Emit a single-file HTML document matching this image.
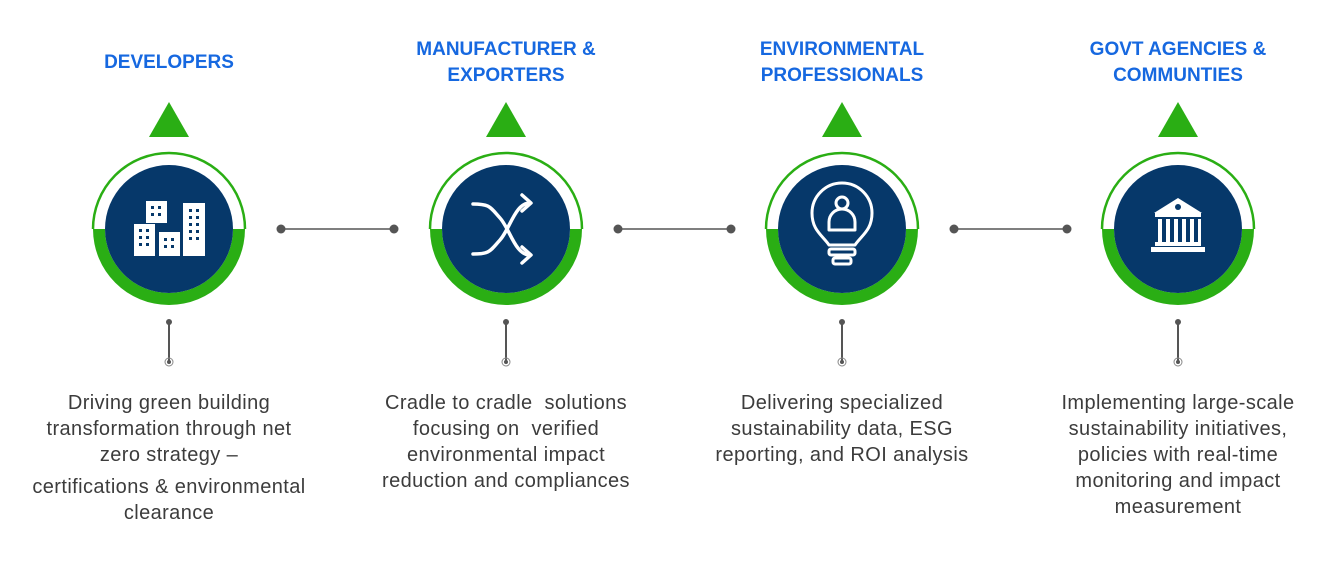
<!DOCTYPE html>
<html><head><meta charset="utf-8"><style>
body{margin:0;width:1333px;height:567px;background:#fff;position:relative;overflow:hidden;font-family:"Liberation Sans",sans-serif}
.t{position:absolute;width:300px;text-align:center;color:#1668e0;font-weight:bold;font-size:19px;line-height:26px}
.d{position:absolute;width:340px;text-align:center;color:#3c3c3c;font-size:20px;letter-spacing:0.4px;line-height:26px}
</style></head><body>
<div class="t" style="left:19px;top:50px">DEVELOPERS</div>
<div class="t" style="left:356px;top:37px">MANUFACTURER &amp;<br>EXPORTERS</div>
<div class="t" style="left:692px;top:37px">ENVIRONMENTAL<br>PROFESSIONALS</div>
<div class="t" style="left:1028px;top:37px">GOVT AGENCIES &amp;<br>COMMUNTIES</div>
<div class="d" style="left:-1px;top:390px">Driving green building<br>transformation through net<br>zero strategy –<div style="height:6px"></div>certifications &amp; environmental<br>clearance</div>
<div class="d" style="left:336px;top:390px">Cradle to cradle&nbsp; solutions<br>focusing on&nbsp; verified<br>environmental impact<br>reduction and compliances</div>
<div class="d" style="left:672px;top:390px">Delivering specialized<br>sustainability data, ESG<br>reporting, and ROI analysis</div>
<div class="d" style="left:1008px;top:390px">Implementing large-scale<br>sustainability initiatives,<br>policies with real-time<br>monitoring and impact<br>measurement</div>
<svg width="1333" height="567" style="position:absolute;left:0;top:0">
<defs>
<g id="node">
<polygon points="0,-127 -20,-92 20,-92" fill="#2aae14"/>
<path d="M-76,0 A76,76 0 0 1 76,0" fill="none" stroke="#2aae14" stroke-width="2.5"/>
<path d="M-76,0 A76,76 0 0 0 76,0 L64,0 A64,64 0 0 1 -64,0 Z" fill="#2aae14"/>
<circle r="64" fill="#06386a"/>
<line x1="0" y1="93" x2="0" y2="133" stroke="#555" stroke-width="2"/>
<circle cx="0" cy="93" r="3" fill="#555"/>
<circle cx="0" cy="133" r="4" fill="none" stroke="#888" stroke-width="1"/>
<circle cx="0" cy="133" r="2" fill="#555"/>
</g>
<g id="conn"><line x1="0" y1="0" x2="113" y2="0" stroke="#555" stroke-width="1.5"/><circle r="4.5" fill="#555"/><circle cx="113" r="4.5" fill="#555"/></g>
</defs>
<use href="#node" x="169" y="229"/>
<use href="#node" x="506" y="229"/>
<use href="#node" x="842" y="229"/>
<use href="#node" x="1178" y="229"/>
<use href="#conn" x="281" y="229"/>
<use href="#conn" x="618" y="229"/>
<use href="#conn" x="954" y="229"/>
<g fill="#fff">
<rect x="134" y="224" width="21" height="32"/>
<rect x="146" y="201" width="21" height="22"/>
<rect x="159" y="232" width="21" height="24"/>
<rect x="183" y="203" width="22" height="53"/>
</g>
<g fill="#06386a">
<rect x="139" y="229" width="3" height="3"/><rect x="146" y="229" width="3" height="3"/><rect x="139" y="236" width="3" height="3"/><rect x="146" y="236" width="3" height="3"/><rect x="139" y="243" width="3" height="3"/><rect x="146" y="243" width="3" height="3"/>
<rect x="151" y="206" width="3" height="3"/><rect x="158" y="206" width="3" height="3"/><rect x="151" y="213" width="3" height="3"/><rect x="158" y="213" width="3" height="3"/>
<rect x="164" y="238" width="3" height="3"/><rect x="171" y="238" width="3" height="3"/><rect x="164" y="245" width="3" height="3"/><rect x="171" y="245" width="3" height="3"/>
<rect x="189" y="209" width="3" height="3"/><rect x="196" y="209" width="3" height="3"/><rect x="189" y="216" width="3" height="3"/><rect x="196" y="216" width="3" height="3"/><rect x="189" y="223" width="3" height="3"/><rect x="196" y="223" width="3" height="3"/><rect x="189" y="230" width="3" height="3"/><rect x="196" y="230" width="3" height="3"/><rect x="189" y="237" width="3" height="3"/><rect x="196" y="237" width="3" height="3"/>
</g>
<g fill="none" stroke="#fff" stroke-width="3.5" stroke-linecap="round" stroke-linejoin="round">
<path d="M473,204 C490,204 490,207 500,218 C510,229 515,255 530,255"/>
<path d="M473,254 C490,254 490,251 500,240 C510,229 515,203 530,203"/>
<path d="M522,195 L531,203 L522,211"/>
<path d="M522,247 L531,255 L522,263"/>
</g>
<g fill="none" stroke="#fff" stroke-width="3" stroke-linejoin="round">
<path d="M829,245 C822,235 812,230 812,213 A30,30 0 0 1 872,213 C872,230 862,235 855,245 Z"/>
<circle cx="842" cy="203" r="6"/>
<path d="M829,230 L829,222 A13,13 0 0 1 855,222 L855,230 Z"/>
<rect x="829" y="249" width="26" height="6" rx="2"/>
<rect x="833" y="258" width="18" height="6" rx="2"/>
</g>
<g fill="#fff">
<polygon points="1178,198 1154,213 1202,213"/>
<rect x="1155" y="213" width="46" height="4"/>
<rect x="1158" y="219" width="4" height="23"/><rect x="1166" y="219" width="4" height="23"/><rect x="1174" y="219" width="4" height="23"/><rect x="1182" y="219" width="4" height="23"/><rect x="1190" y="219" width="4" height="23"/><rect x="1198" y="219" width="3" height="23"/>
<rect x="1155" y="242" width="46" height="4"/>
<rect x="1151" y="247" width="54" height="5"/>
</g>
<circle cx="1178" cy="207" r="3" fill="#06386a"/>
</svg>
</body></html>
